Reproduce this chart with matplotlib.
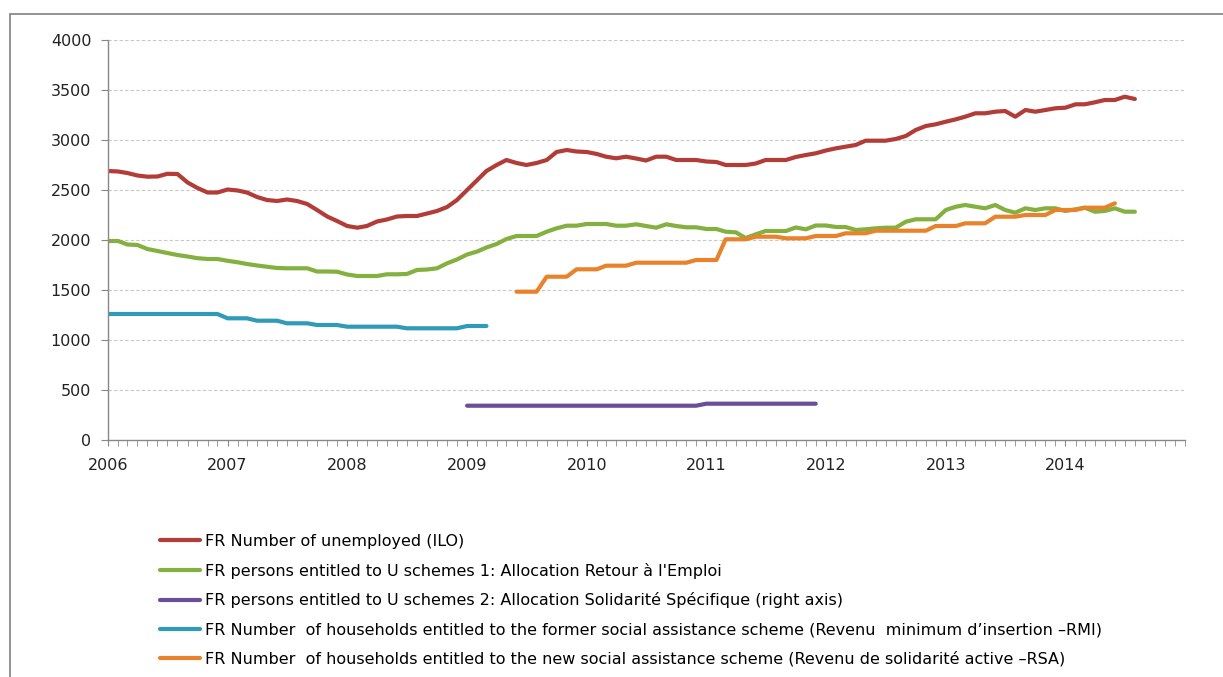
import numpy as np
import pandas as pd
import matplotlib
matplotlib.use('Agg')
import matplotlib.pyplot as plt
import matplotlib.dates as mdates
from matplotlib.patches import Rectangle

plt.rcParams['font.family'] = ['DejaVu Sans']

# monthly data, Jan 2006 onwards (thousands)
unemployed_ilo = [
    2690, 2685, 2670, 2645, 2633, 2635, 2662, 2660, 2575, 2520, 2475, 2475,
    2505, 2495, 2475, 2430, 2400, 2390, 2405, 2390, 2360, 2300, 2235, 2190,
    2140, 2123, 2140, 2185, 2205, 2235, 2240, 2240, 2265, 2290, 2330, 2400,
    2500, 2600, 2690, 2750, 2800, 2770, 2750, 2770, 2800, 2880, 2900, 2885,
    2880, 2860, 2833, 2817, 2833, 2815, 2795, 2833, 2833, 2800, 2800, 2800,
    2785, 2780, 2750, 2750, 2750, 2765, 2800, 2800, 2800, 2830, 2850, 2867,
    2895, 2917, 2933, 2950, 2993, 2993, 2993, 3010, 3040, 3100, 3140, 3157,
    3183, 3207, 3233, 3267, 3267, 3283, 3290, 3233, 3300, 3283, 3300, 3317,
    3323, 3357, 3357, 3377, 3400, 3400, 3433, 3410,
]
are_entitled = [
    1990, 1990, 1955, 1950, 1910, 1890, 1870, 1850, 1835, 1818, 1810, 1810,
    1792, 1777, 1760, 1745, 1733, 1720, 1717, 1717, 1717, 1685, 1685, 1683,
    1655, 1640, 1640, 1640, 1657, 1657, 1660, 1700, 1705, 1717, 1767, 1805,
    1855, 1885, 1925, 1960, 2010, 2040, 2040, 2040, 2083, 2117, 2143, 2143,
    2160, 2160, 2160, 2143, 2143, 2157, 2140, 2123, 2157, 2140, 2127, 2127,
    2110, 2110, 2083, 2077, 2020, 2057, 2090, 2090, 2090, 2125, 2107, 2145,
    2145, 2130, 2130, 2100, 2107, 2117, 2123, 2123, 2183, 2207, 2207, 2207,
    2300, 2333, 2350, 2333, 2317, 2350, 2300, 2273, 2317, 2300, 2317, 2317,
    2290, 2307, 2323, 2283, 2290, 2317, 2283, 2283,
]
# ASS starts Jan 2009
ass_entitled = [343] * 24 + [363] * 12
# RMI Jan 2006 - Mar 2009
rmi_households = ([1260] * 12 + [1217] * 3 + [1193] * 3 + [1167] * 3 +
                  [1150] * 3 + [1133] * 6 + [1117] * 6 + [1140] * 3)
# RSA starts Jun 2009
rsa_households = ([1483] * 3 + [1633] * 3 + [1707] * 3 + [1743] * 3 +
                  [1773] * 6 + [1800] * 3 + [2007] * 3 + [2033] * 3 +
                  [2017] * 3 + [2040] * 3 + [2067] * 3 + [2093] * 6 +
                  [2140] * 3 + [2167] * 3 + [2233] * 3 + [2250] * 3 +
                  [2300] * 3 + [2323] * 3 + [2367])

labels = [
    'FR Number of unemployed (ILO)',
    "FR persons entitled to U schemes 1: Allocation Retour à l'Emploi",
    'FR persons entitled to U schemes 2: Allocation Solidarité Spécifique (right axis)',
    'FR Number  of households entitled to the former social assistance scheme (Revenu  minimum d\u2019insertion \u2013RMI)',
    'FR Number  of households entitled to the new social assistance scheme (Revenu de solidarité active \u2013RSA)',
]
colors = ['#B23C38', '#84B03F', '#6A4E97', '#2F9BB8', '#E8832C']

d_red = pd.date_range('2006-01-01', periods=len(unemployed_ilo), freq='MS')
d_green = pd.date_range('2006-01-01', periods=len(are_entitled), freq='MS')
d_purple = pd.date_range('2009-01-01', periods=len(ass_entitled), freq='MS')
d_cyan = pd.date_range('2006-01-01', periods=len(rmi_households), freq='MS')
d_orange = pd.date_range('2009-06-01', periods=len(rsa_households), freq='MS')

fig = plt.figure(figsize=(12.23, 6.77), dpi=100)
ax = fig.add_axes([108 / 1223, 1 - 440 / 677, (1185 - 108) / 1223, 400 / 677])

series = [(d_red, unemployed_ilo), (d_green, are_entitled), (d_purple, ass_entitled),
          (d_cyan, rmi_households), (d_orange, rsa_households)]
for (d, v), c, lab in zip(series, colors, labels):
    ax.plot(d, v, color=c, lw=3, label=lab, solid_capstyle='round', solid_joinstyle='round')

ax.set_ylim(0, 4000)
ax.set_yticks(np.arange(0, 4001, 500))
ax.set_xlim(pd.Timestamp('2006-01-01'), pd.Timestamp('2015-01-01'))
ax.xaxis.set_minor_locator(mdates.MonthLocator())
ax.set_xticks(pd.date_range('2006-01-01', '2014-01-01', freq='YS'))
ax.xaxis.set_major_formatter(mdates.DateFormatter('%Y'))

ax.grid(axis='y', color='#C8C8C8', lw=0.8, ls=(0, (3, 2)))
ax.set_axisbelow(True)
for s in ['top', 'right']:
    ax.spines[s].set_visible(False)
for s in ['left', 'bottom']:
    ax.spines[s].set_color('#888888')
    ax.spines[s].set_linewidth(1.0)
ax.tick_params(axis='y', length=5, color='#888888', labelsize=11.5, labelcolor='#222222', pad=7)
ax.tick_params(axis='x', which='both', length=4, color='#888888', labelsize=11.5,
               labelcolor='#222222', pad=9)

fig.legend(loc='upper left', bbox_to_anchor=(160 / 1223, 1 - 534 / 677), frameon=False,
           fontsize=11.5, handlelength=2.5, handletextpad=0.3, labelspacing=0.86,
           borderpad=0, borderaxespad=0)

# outer chart frame (left and top visible)
fig.add_artist(Rectangle((10 / 1223, -0.2), 1.2, 1.2 - 14 / 677,
                         transform=fig.transFigure, fill=False, ec='#808080', lw=1.2))

fig.savefig('out.png', dpi=100)
